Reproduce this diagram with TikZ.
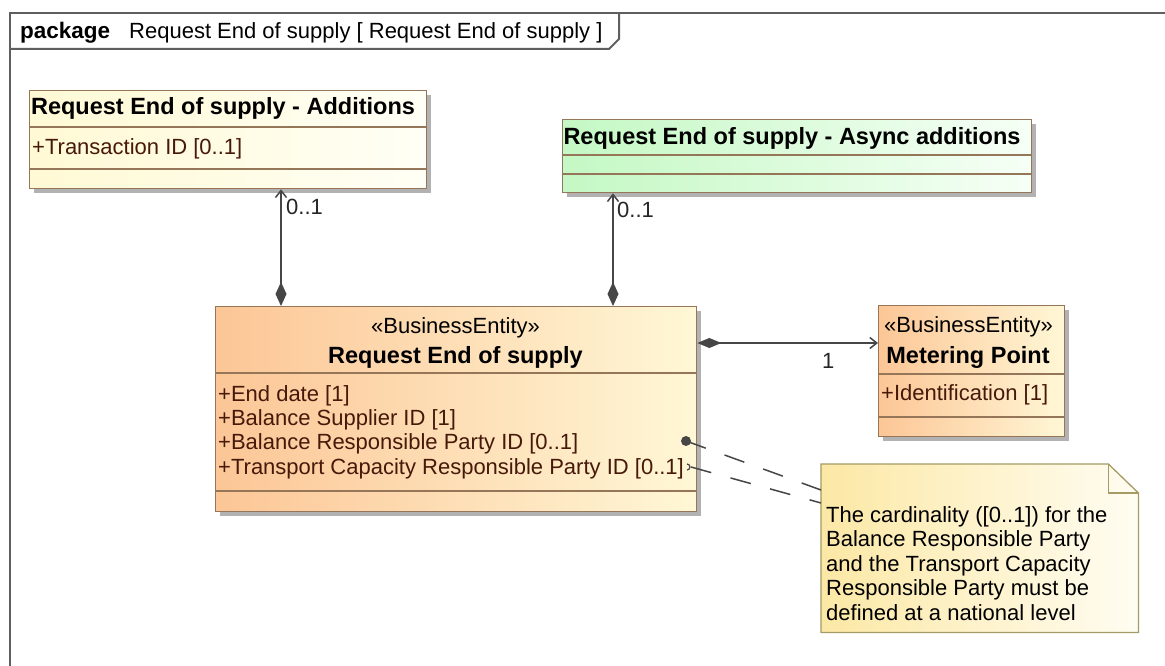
\documentclass[tikz,border=0pt]{standalone}
\usepackage{fontspec}
\setmainfont{Liberation Sans}
\usetikzlibrary{arrows.meta,shadows}
\definecolor{clsborder}{RGB}{150,118,88}
\definecolor{noteborder}{RGB}{165,155,100}
\definecolor{attrc}{RGB}{70,25,10}
\definecolor{linec}{RGB}{70,70,70}
\definecolor{framec}{RGB}{95,95,95}
\definecolor{yelL}{RGB}{255,249,212}
\definecolor{yelR}{RGB}{255,255,246}
\definecolor{grnL}{RGB}{196,248,196}
\definecolor{grnR}{RGB}{246,255,246}
\definecolor{orgL}{RGB}{252,198,150}
\definecolor{orgR}{RGB}{255,247,214}
\definecolor{noteL}{RGB}{252,232,165}
\definecolor{noteR}{RGB}{255,253,242}
\newcommand{\dfont}{\fontsize{22}{24.5}\selectfont}
\newcommand{\tfont}{\fontsize{23.5}{26}\selectfont\bfseries}
\tikzset{
  cls/.style={draw=clsborder, line width=1.3pt, rectangle, inner sep=0pt, anchor=north west,
    drop shadow={shadow xshift=4pt,shadow yshift=-4pt,fill=black,opacity=.3}},
  ttl/.style={anchor=base, inner sep=0pt, font=\tfont},
  stereo/.style={anchor=base, inner sep=0pt},
  attr/.style={anchor=base west, inner sep=0pt, text=attrc},
  sepline/.style={draw=clsborder, line width=1.3pt},
  assoc/.style={draw=linec, line width=1.5pt},
  mult/.style={anchor=base west, inner sep=0pt, text=black!85},
  notelink/.style={draw=linec, line width=1.5pt, dash pattern=on 21pt off 20pt},
  framel/.style={draw=framec, line width=2pt},
  diam/.tip={Diamond[length=24pt,width=11pt]},
  barb/.tip={Straight Barb[length=7pt,width=11pt]}
}
\begin{document}
\begin{tikzpicture}[x=1pt,y=-1pt,font=\dfont]
\useasboundingbox (0,0) rectangle (1165,666);
\fill[white] (0,0) rectangle (1165,666);

% package frame
\draw[framel] (1165,13) -- (10,13) -- (10,666);
\draw[framel] (10,49) -- (609,49) -- (619,39) -- (619,13);
\node[anchor=base west, inner sep=0pt, font=\fontsize{22.5}{25}\selectfont\bfseries] (pkgkw) at (20,38.5) {package};
\node[anchor=base west, inner sep=0pt] (pkgname) at (129,38.5) {Request End of supply [ Request End of supply ]};

% Additions class
\node[cls, minimum width=397pt, minimum height=98pt, left color=yelL, right color=yelR] (add) at (29,90) {};
\draw[sepline] ([yshift=-37pt]add.north west) -- ([yshift=-37pt]add.north east);
\draw[sepline] ([yshift=-79pt]add.north west) -- ([yshift=-79pt]add.north east);
\node[ttl] (addT) at (223,115) {Request End of supply - Additions};
\node[attr] (addA) at (32,155) {+Transaction ID [0..1]};

% Async additions class
\node[cls, minimum width=469pt, minimum height=73pt, left color=grnL, right color=grnR] (async) at (562,119) {};
\draw[sepline] ([yshift=-36pt]async.north west) -- ([yshift=-36pt]async.north east);
\draw[sepline] ([yshift=-55pt]async.north west) -- ([yshift=-55pt]async.north east);
\node[ttl] (asyncT) at (792,145) {Request End of supply - Async additions};

% Main class
\node[cls, minimum width=481pt, minimum height=205pt, left color=orgL, right color=orgR] (main) at (215,306) {};
\draw[sepline] ([yshift=-67pt]main.north west) -- ([yshift=-67pt]main.north east);
\draw[sepline] ([yshift=-185pt]main.north west) -- ([yshift=-185pt]main.north east);
\node[stereo] (mainS) at (455.5,333) {«BusinessEntity»};
\node[ttl] (mainT) at (455.5,363) {Request End of supply};
\node[attr] (m1) at (218,401) {+End date [1]};
\node[attr] (m2) at (218,425) {+Balance Supplier ID [1]};
\node[attr] (m3) at (218,449.5) {+Balance Responsible Party ID [0..1]};
\node[attr] (m4) at (218,474) {+Transport Capacity Responsible Party ID [0..1]};

% Metering Point class
\node[cls, minimum width=186pt, minimum height=131pt, left color=orgL, right color=orgR] (meter) at (878,305) {};
\draw[sepline] ([yshift=-69pt]meter.north west) -- ([yshift=-69pt]meter.north east);
\draw[sepline] ([yshift=-112pt]meter.north west) -- ([yshift=-112pt]meter.north east);
\node[stereo] (meterS) at (968.5,332) {«BusinessEntity»};
\node[ttl] (meterT) at (968,363) {Metering Point};
\node[attr] (meterA) at (881,400) {+Identification [1]};

% Note
\node[inner sep=0pt, minimum width=317pt, minimum height=168pt, anchor=north west] (note) at (821,464) {};
\fill[black, opacity=.3, shift={(4pt,-4pt)}] (note.north west) -- ([xshift=-30pt]note.north east)
  -- ([yshift=-29pt]note.north east) -- (note.south east) -- (note.south west) -- cycle;
\shade[left color=noteL, right color=noteR] (note.north west) -- ([xshift=-30pt]note.north east)
  -- ([yshift=-29pt]note.north east) -- (note.south east) -- (note.south west) -- cycle;
\draw[noteborder, line width=1.3pt, line join=miter] (note.north west) -- ([xshift=-30pt]note.north east)
  -- ([yshift=-29pt]note.north east) -- (note.south east) -- (note.south west) -- cycle;
\draw[noteborder, line width=1.3pt] ([xshift=-30pt]note.north east) -- ([xshift=-30pt,yshift=-29pt]note.north east)
  -- ([yshift=-29pt]note.north east);
\node[anchor=base west, inner sep=0pt, align=left] (noteT) at (826,620) {The cardinality ([0..1]) for the\\Balance Responsible Party\\and the Transport Capacity\\Responsible Party must be\\defined at a national level};

% associations
\draw[assoc, {diam}-{barb}] ([xshift=66pt]main.north west) -- ([xshift=252pt]add.south west);
\node[mult] (mult1) at (286,214) {0..1};
\draw[assoc, {diam}-{barb}] ([xshift=398pt]main.north west) -- ([xshift=51pt]async.south west);
\node[mult] (mult2) at (617,217) {0..1};
\draw[assoc, {Diamond[length=24pt,width=10pt]}-{barb}] ([yshift=-37pt]main.north east) -- ([yshift=-38pt]meter.north west);
\node[mult] (mult3) at (822,368) {1};

% note links
\coordinate (nd1) at (686,441);
\coordinate (nd2) at (691,467);
\fill[linec] (nd1) circle (5pt);
\draw[notelink] (nd1) -- ([yshift=-26pt]note.north west);
\draw[notelink] (nd2) -- ([yshift=-39pt]note.north west);
\draw[linec, line width=1.2pt] ([xshift=-4pt,yshift=3pt]nd2) arc[start angle=90, end angle=-90, radius=3pt];
\end{tikzpicture}
\end{document}
